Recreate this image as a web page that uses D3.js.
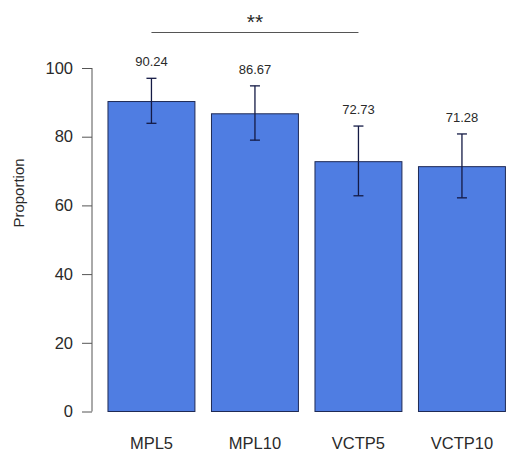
<!DOCTYPE html>
<html>
<head>
<meta charset="utf-8">
<script src="https://cdn.jsdelivr.net/npm/d3@7"></script>
<style>
  html, body { margin: 0; padding: 0; background: #fff; }
  svg { display: block; }
  text { font-family: "Liberation Sans", Arial, Helvetica, sans-serif; }
</style>
</head>
<body>
<svg id="chart" width="506" height="456"></svg>
<script>
// Groups and their mean proportions (%) with error-bar limits
const groups = ["MPL5", "MPL10", "VCTP5", "VCTP10"];
const means  = [90.24, 86.67, 72.73, 71.28];
const lower  = [83.9, 79.0, 62.8, 62.2];
const upper  = [97.0, 94.8, 83.1, 80.8];
const yTicks = [0, 20, 40, 60, 80, 100];
// Significance bracket between the first and third group
const sigPair  = ["MPL5", "VCTP5"];
const sigLabel = "**";

const svg = d3.select("#chart");

const x = d3.scaleBand()
  .domain(groups)
  .range([99.7, 513.7])
  .paddingInner(0.16)
  .paddingOuter(0.08);

const y = d3.scaleLinear()
  .domain([0, 100])
  .range([411.5, 68]);

// Bars
svg.append("g")
  .selectAll("rect")
  .data(groups)
  .join("rect")
  .attr("x", d => x(d))
  .attr("y", (d, i) => y(means[i]))
  .attr("width", x.bandwidth())
  .attr("height", (d, i) => y(0) - y(means[i]))
  .attr("fill", "#4f7de2")
  .attr("stroke", "#1f2a55")
  .attr("stroke-width", 1);

// Error bars
const eb = svg.append("g").attr("stroke", "#141a45").attr("stroke-width", 1.3);
groups.forEach((g, i) => {
  const cx = x(g) + x.bandwidth() / 2;
  eb.append("line").attr("x1", cx).attr("x2", cx).attr("y1", y(lower[i])).attr("y2", y(upper[i]));
  eb.append("line").attr("x1", cx - 5).attr("x2", cx + 5).attr("y1", y(upper[i])).attr("y2", y(upper[i]));
  eb.append("line").attr("x1", cx - 5).attr("x2", cx + 5).attr("y1", y(lower[i])).attr("y2", y(lower[i]));
});

// Value labels above the error bars
svg.append("g")
  .selectAll("text")
  .data(groups)
  .join("text")
  .attr("x", d => x(d) + x.bandwidth() / 2)
  .attr("y", (d, i) => y(upper[i]) - 12)
  .attr("text-anchor", "middle")
  .attr("font-size", 13)
  .attr("fill", "#2a2a2a")
  .text((d, i) => means[i].toFixed(2));

// Y axis
const yAxis = svg.append("g")
  .attr("transform", "translate(92,0)")
  .call(d3.axisLeft(y).tickValues(yTicks).tickSize(10).tickPadding(9));
yAxis.select(".domain").attr("stroke", "#555").attr("d", `M0,${y(0)}V${y(100)}`);
yAxis.selectAll(".tick line").attr("stroke", "#555");
yAxis.selectAll(".tick text")
  .attr("font-size", 16.5)
  .attr("fill", "#2a2a2a")
  .style("font-family", '"Liberation Sans", Arial, sans-serif');

// Y axis title
svg.append("text")
  .attr("transform", `translate(24,193) rotate(-90)`)
  .attr("text-anchor", "middle")
  .attr("font-size", 15)
  .attr("fill", "#2a2a2a")
  .text("Proportion");

// Category labels
svg.append("g")
  .selectAll("text")
  .data(groups)
  .join("text")
  .attr("x", d => x(d) + x.bandwidth() / 2)
  .attr("y", 449)
  .attr("text-anchor", "middle")
  .attr("font-size", 16.5)
  .attr("fill", "#2a2a2a")
  .text(d => d);

// Significance bracket
const sx1 = x(sigPair[0]) + x.bandwidth() / 2;
const sx2 = x(sigPair[1]) + x.bandwidth() / 2;
svg.append("line")
  .attr("x1", sx1).attr("x2", sx2)
  .attr("y1", 32.5).attr("y2", 32.5)
  .attr("stroke", "#555").attr("stroke-width", 1.2);
svg.append("text")
  .attr("x", (sx1 + sx2) / 2)
  .attr("y", 29)
  .attr("text-anchor", "middle")
  .attr("font-size", 21)
  .attr("fill", "#2a2a2a")
  .text(sigLabel);
</script>
</body>
</html>
